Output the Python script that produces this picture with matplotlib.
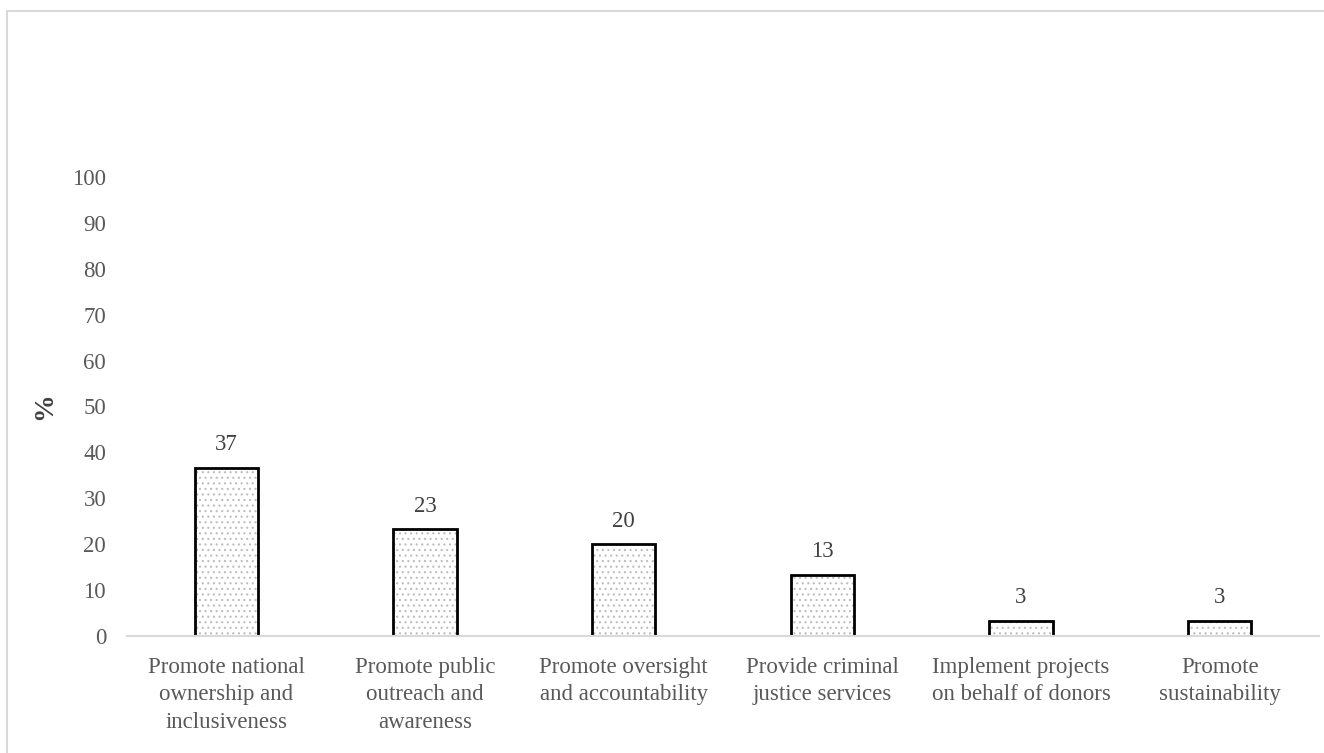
import matplotlib
matplotlib.use('Agg')
import matplotlib.pyplot as plt
from matplotlib.patches import Rectangle
import numpy as np

# datele graficului
categorii = ['Promote national\nownership and\ninclusiveness',
             'Promote public\noutreach and\nawareness',
             'Promote oversight\nand accountability',
             'Provide criminal\njustice services',
             'Implement projects\non behalf of donors',
             'Promote\nsustainability']
valori = [36.7, 23.3, 20.0, 13.3, 3.3, 3.3]
etichete = ['37', '23', '20', '13', '3', '3']
yticks = [0, 10, 20, 30, 40, 50, 60, 70, 80, 90, 100]

plt.rcParams['font.family'] = ['Liberation Serif', 'DejaVu Serif']
plt.rcParams['hatch.linewidth'] = 0.8

fig = plt.figure(figsize=(13.24, 7.53), dpi=100)
ax = fig.add_axes([127/1324, 1 - 636/753, (1319 - 127)/1324, (636 - 177)/753])

x = np.arange(len(categorii))
# umplutura punctata gri, apoi conturul negru
ax.bar(x, valori, width=0.32, color='white', edgecolor='#bdbdbd', hatch='...', linewidth=0)
ax.bar(x, valori, width=0.32, fill=False, edgecolor='black', linewidth=2)

for xi, v, t in zip(x, valori, etichete):
    ax.annotate(t, (xi, v), xytext=(0, 9), textcoords='offset points',
                ha='center', va='bottom', fontsize=16.5, color='#404040')

ax.set_xlim(-0.5, len(categorii) - 0.5)
ax.set_ylim(0, 100)
ax.set_yticks(yticks)
ax.set_xticks(x)
ax.set_xticklabels(categorii, fontsize=16.5, color='#595959', linespacing=1.4)
ax.tick_params(axis='y', length=0, pad=15, labelsize=16.5, labelcolor='#595959')
ax.tick_params(axis='x', length=0, pad=15)
ax.set_ylabel('%', fontsize=20, fontweight='bold', color='#404040', labelpad=11)

for s in ['top', 'right', 'left']:
    ax.spines[s].set_visible(False)
ax.spines['bottom'].set_color('#d9d9d9')
ax.spines['bottom'].set_linewidth(1.5)

# chenarul gri al figurii
fig.patches.append(Rectangle((7/1324, -0.05), 1.2, (753 - 11)/753 + 0.05,
                             transform=fig.transFigure, fill=False,
                             edgecolor='#d9d9d9', linewidth=1.5, clip_on=False))

fig.savefig('out.png', dpi=100)
